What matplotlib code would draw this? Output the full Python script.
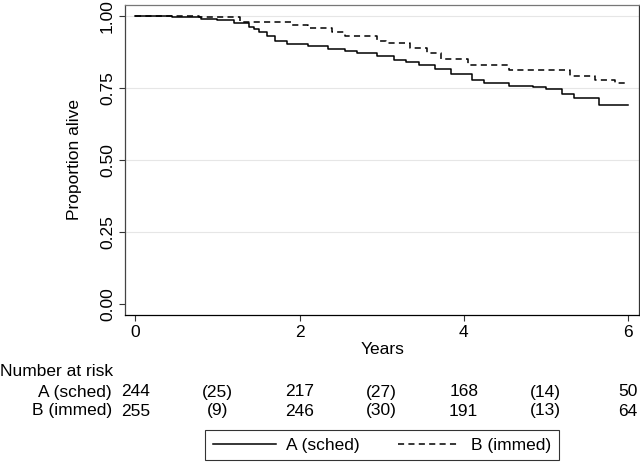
import numpy as np
import matplotlib.pyplot as plt
from matplotlib.transforms import blended_transform_factory

plt.rcParams['font.family'] = ['Liberation Sans', 'DejaVu Sans']

## Kaplan-Meier step values
tA = [0, 0.45, 0.8, 1.0, 1.2, 1.38, 1.45, 1.5, 1.6, 1.7, 1.85, 2.1, 2.35, 2.55,
      2.7, 2.95, 3.15, 3.3, 3.45, 3.65, 3.85, 4.1, 4.25, 4.55, 4.85, 5.0, 5.2,
      5.35, 5.65, 6.0]
sA = [1.0, 0.997, 0.99, 0.985, 0.975, 0.962, 0.955, 0.945, 0.93, 0.915, 0.903,
      0.895, 0.885, 0.878, 0.872, 0.86, 0.848, 0.842, 0.83, 0.815, 0.798, 0.778,
      0.768, 0.757, 0.752, 0.745, 0.73, 0.715, 0.69, 0.69]

tB = [0, 0.78, 1.28, 1.9, 2.1, 2.4, 2.55, 2.95, 3.05, 3.35, 3.55, 3.72, 4.05,
      4.55, 5.3, 5.6, 5.85, 6.0]
sB = [1.0, 0.996, 0.98, 0.97, 0.96, 0.945, 0.93, 0.915, 0.905, 0.89, 0.87,
      0.85, 0.83, 0.812, 0.79, 0.778, 0.768, 0.768]

## number at risk table
risk_t = [0, 1, 2, 3, 4, 5, 6]
riskA = ["244", "(25)", "217", "(27)", "168", "(14)", "50"]
riskB = ["255", "(9)", "246", "(30)", "191", "(13)", "64"]
groups = ["A (sched)", "B (immed)"]

fs = 12.5

fig = plt.figure(figsize=(6.4, 4.63), dpi=100)
ax = fig.add_axes([0.196, 0.320, 0.802, 0.669])

lA, = ax.step(tA, sA, where='post', color='black', lw=1.1)
lB, = ax.step(tB, sB, where='post', color='black', lw=1.1, dashes=(4, 2.8))

ax.set_xlim(-0.122, 6.134)
ax.set_ylim(-0.038, 1.038)
ax.set_xticks([0, 2, 4, 6])
ax.set_yticks([0, 0.25, 0.5, 0.75, 1.0])
ax.set_yticklabels(["0.00", "0.25", "0.50", "0.75", "1.00"], rotation=90, va='center')
ax.tick_params(labelsize=fs, length=4, width=0.8, color='#333333')

for g in [0.25, 0.5, 0.75, 1.0]:
    ax.axhline(g, color='#e6e6e6', lw=0.8, zorder=0)

ax.spines['top'].set_color('#777777')
ax.spines['right'].set_color('#333333')
ax.spines['left'].set_color('#444444')
for s in ax.spines.values():
    s.set_linewidth(0.9)

ax.set_ylabel("Proportion alive", fontsize=fs, labelpad=13)
ax.set_xlabel("Years", fontsize=fs, labelpad=1)

## number at risk
tr = blended_transform_factory(ax.transData, fig.transFigure)
fig.text(0.0, 1 - 372/463, "Number at risk", fontsize=fs, va='center', ha='left')
for row, (g, vals) in enumerate(zip(groups, [riskA, riskB])):
    y = 1 - (392 + 19*row)/463
    fig.text(112/640, y, g, fontsize=fs, va='center', ha='right')
    for t, v in zip(risk_t, vals):
        ax.text(t, y, v, transform=tr, fontsize=fs, va='center', ha='center')

leg = fig.legend([lA, lB], groups, loc='center', bbox_to_anchor=(0.597, 1 - 445/463),
                 ncol=2, fontsize=fs, frameon=True, fancybox=False,
                 handlelength=3.6, handletextpad=0.6, columnspacing=2.2, borderpad=0.45)
leg.get_frame().set_edgecolor('black')
leg.get_frame().set_linewidth(0.8)

fig.savefig("out.png", dpi=100)
